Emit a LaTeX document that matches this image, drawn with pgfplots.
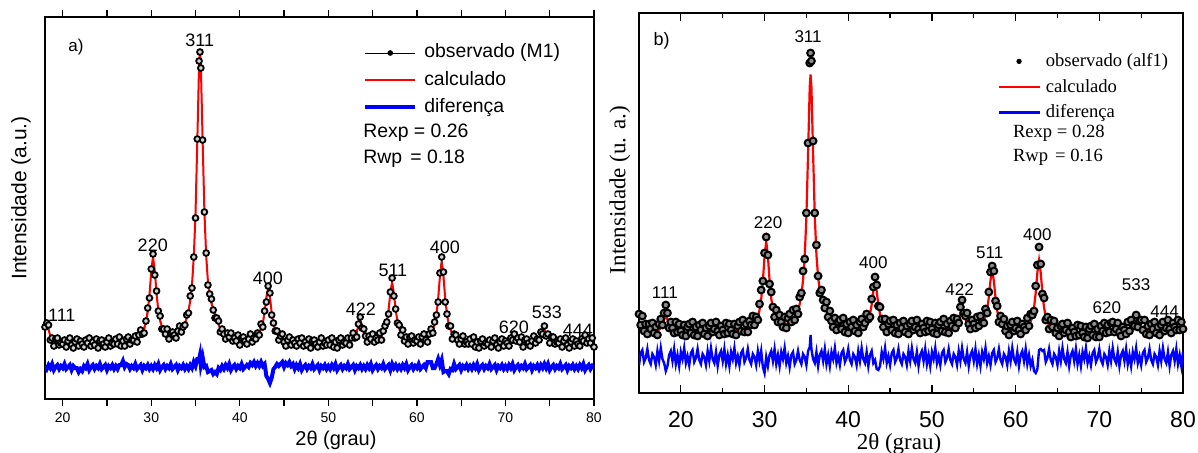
\documentclass[border=0pt]{standalone}
\usepackage{fontspec}
\setmainfont{Liberation Sans}
\newfontfamily\tnr{Liberation Serif}
\usepackage{pgfplots}
\usepackage{pgfplotstable}
\pgfplotsset{compat=1.18}

% panel a: 2theta, observed, calculated, difference
\pgfplotstableread{
x obs calc dif
18.0 72 69.1 33
18.2 76 73.5 30
18.4 74 69.1 34
18.6 59 63.3 31
18.8 61 60.1 35
19.0 53 58.4 29
19.2 60 57.5 32
19.4 61 56.9 34
19.6 54 56.6 30
19.8 56 56.3 33
20.0 55 56.2 31
20.2 59 56.0 35
20.4 52 55.9 30
20.6 58 55.8 32
20.8 61 55.8 34
21.0 54 55.7 29
21.2 51 55.7 33
21.4 57 55.7 31
21.6 60 55.7 31
21.8 53 55.7 27
22.0 58 55.7 30
22.2 55 55.8 28
22.4 52 55.8 33
22.6 59 55.8 31
22.8 56 55.8 35
23.0 61 55.8 29
23.2 53 55.9 32
23.4 57 55.9 34
23.6 54 55.9 30
23.8 60 55.9 33
24.0 51 56.0 31
24.2 58 56.0 35
24.4 59 56.0 30
24.6 55 56.1 32
24.8 52 56.1 34
25.0 57 56.2 29
25.2 61 56.2 33
25.4 53 56.3 31
25.6 56 56.4 34
25.8 55 56.5 30
26.0 60 56.6 33
26.2 55 56.7 30
26.4 62 56.9 34
26.6 53 57.0 34
26.8 58 57.2 38
27.0 53 57.5 32
27.2 60 57.7 35
27.4 62 58.0 34
27.6 55 58.4 30
27.8 59 58.9 33
28.0 59 59.5 31
28.2 63 60.2 35
28.4 57 61.2 30
28.6 64 62.4 32
28.8 69 64.2 34
29.0 65 66.9 29
29.2 66 70.8 33
29.4 78 77.0 31
29.6 91 87.2 34
29.8 101 104.2 30
30.0 130 127.8 33
30.2 145 141.9 30
30.4 124 128.3 34
30.6 108 104.9 31
30.8 88 88.2 35
31.0 83 78.3 29
31.2 70 72.5 32
31.4 70 69.0 34
31.6 65 66.8 30
31.8 70 65.5 33
32.0 60 64.7 31
32.2 66 64.4 35
32.4 67 64.4 30
32.6 64 64.7 32
32.8 61 65.3 34
33.0 68 66.5 29
33.2 73 67.8 33
33.4 67 69.6 31
33.6 72 72.2 34
33.8 74 75.6 30
34.0 84 80.5 33
34.2 86 87.5 30
34.4 103 98.0 34
34.6 111 114.5 31
34.8 142 141.3 37
35.0 181 186.4 33
35.2 260 257.8 40
35.4 338 333.7 40
35.5 347 347.5 44
35.6 331 333.8 34
35.8 259 258.5 42
36.0 187 187.6 32
36.2 146 143.3 33
36.4 114 117.7 27
36.6 105 103.0 28
36.8 100 95.3 29
37.0 89 91.1 25
37.2 81 86.2 27
37.4 81 79.9 25
37.6 78 74.4 31
37.8 67 70.4 29
38.0 70 67.6 33
38.2 65 65.6 30
38.4 60 63.9 34
38.6 66 62.7 31
38.8 62 61.8 35
39.0 66 61.1 29
39.2 58 60.6 32
39.4 61 60.1 34
39.6 58 59.8 30
39.8 64 59.5 33
40.0 54 59.3 31
40.2 61 59.2 35
40.4 62 59.1 30
40.6 58 59.1 32
40.8 55 59.2 34
41.0 60 59.4 32
41.2 65 59.7 36
41.4 57 60.1 34
41.6 61 60.8 37
41.8 60 61.8 33
42.0 66 63.3 36
42.2 64 65.7 33
42.4 75 69.6 37
42.6 72 76.1 33
42.8 88 86.9 35
43.0 97 102.0 23
43.2 113 111.0 20
43.4 106 101.9 16
43.6 84 86.6 21
43.8 76 75.7 30
44.0 68 69.1 32
44.2 68 65.1 35
44.4 59 62.6 33
44.6 63 60.9 35
44.8 65 59.7 37
45.0 57 58.9 32
45.2 53 58.3 36
45.4 59 57.8 34
45.6 62 57.5 37
45.8 54 57.2 33
46.0 59 57.0 35
46.2 56 56.8 30
46.4 53 56.6 34
46.6 60 56.5 31
46.8 56 56.3 35
47.0 61 56.2 29
47.2 53 56.1 32
47.4 57 56.1 34
47.6 54 56.0 30
47.8 60 56.0 33
48.0 51 56.0 31
48.2 58 56.0 35
48.4 59 56.0 30
48.6 55 56.0 32
48.8 52 56.0 34
49.0 57 56.0 29
49.2 61 56.0 33
49.4 53 56.0 31
49.6 56 56.0 34
49.8 54 56.1 30
50.0 59 56.1 33
50.2 54 56.1 30
50.4 61 56.2 34
50.6 52 56.2 31
50.8 57 56.3 35
51.0 51 56.4 29
51.2 59 56.5 32
51.4 61 56.6 34
51.6 54 56.7 30
51.8 57 56.9 33
52.0 56 57.2 31
52.2 61 57.6 35
52.4 54 58.2 30
52.6 61 59.1 32
52.8 66 60.5 34
53.0 61 63.0 29
53.2 62 67.3 33
53.4 75 73.9 31
53.6 82 78.4 34
53.8 71 74.1 30
54.0 70 67.7 33
54.2 63 63.6 30
54.4 57 61.4 34
54.6 63 60.3 31
54.8 60 59.7 35
55.0 65 59.6 29
55.2 57 59.7 32
55.4 61 60.1 34
55.6 59 60.8 30
55.8 66 61.8 33
56.0 59 63.5 31
56.2 68 66.1 35
56.4 73 70.4 30
56.6 77 77.5 32
56.8 85 89.4 34
57.0 107 106.0 29
57.2 121 116.0 35
57.4 103 106.0 31
57.6 90 89.5 34
57.8 76 77.6 30
58.0 74 70.5 33
58.2 64 66.2 30
58.4 69 63.6 34
58.6 58 61.9 31
58.8 62 60.8 35
59.0 55 60.0 29
59.2 62 59.5 32
59.4 63 59.2 34
59.6 56 59.0 30
59.8 59 58.9 33
60.0 58 58.9 31
60.2 62 59.0 35
60.4 55 59.2 30
60.6 62 59.6 32
60.8 65 60.1 34
61.0 59 60.8 31
61.2 57 61.9 37
61.4 65 63.5 37
61.6 70 65.8 37
61.8 66 69.4 31
62.0 77 75.0 31
62.2 84 84.6 35
62.4 97 100.5 40
62.6 126 122.5 34
62.8 142 135.7 39
63.0 127 122.4 27
63.2 97 100.3 28
63.4 85 84.4 28
63.6 73 74.8 25
63.8 73 69.0 30
64.0 60 65.4 29
64.2 65 62.9 35
64.4 64 61.2 30
64.6 59 60.0 32
64.8 55 59.2 34
65.0 60 58.5 29
65.2 63 58.0 33
65.4 55 57.6 31
65.6 57 57.3 34
65.8 55 57.0 30
66.0 60 56.8 33
66.2 55 56.6 30
66.4 62 56.5 34
66.6 52 56.4 31
66.8 57 56.3 35
67.0 51 56.2 29
67.2 58 56.1 32
67.4 60 56.0 34
67.6 53 56.0 30
67.8 56 55.9 33
68.0 55 55.9 31
68.2 59 55.9 35
68.4 52 55.9 30
68.6 58 55.9 32
68.8 61 55.9 34
69.0 54 55.9 29
69.2 51 55.9 33
69.4 57 56.0 31
69.6 60 56.0 34
69.8 53 56.1 30
70.0 58 56.3 33
70.2 56 56.5 30
70.4 53 56.9 34
70.6 61 57.6 31
70.8 59 58.6 35
71.0 65 59.9 29
71.2 58 60.6 32
71.4 61 60.0 34
71.6 57 58.8 30
71.8 62 57.9 33
72.0 52 57.3 31
72.2 59 57.0 35
72.4 60 57.0 30
72.6 56 56.9 32
72.8 53 57.1 34
73.0 58 57.3 29
73.2 63 57.8 33
73.4 56 58.5 31
73.6 60 59.6 34
73.8 59 61.4 30
74.0 67 63.9 34
74.2 65 66.9 31
74.4 73 68.4 35
74.6 63 66.9 31
74.8 65 63.9 35
75.0 56 61.3 29
75.2 62 59.5 32
75.4 62 58.4 34
75.6 55 57.6 30
75.8 57 57.1 33
76.0 56 56.7 31
76.2 60 56.5 35
76.4 52 56.3 30
76.6 58 56.2 32
76.8 61 56.1 34
77.0 54 56.0 29
77.2 51 56.0 33
77.4 57 56.0 31
77.6 60 56.0 34
77.8 53 56.0 30
78.0 58 56.1 33
78.2 55 56.3 30
78.4 53 56.6 34
78.6 60 57.1 31
78.8 58 57.9 35
79.0 64 58.9 29
79.2 56 59.4 32
79.4 60 58.9 34
79.6 56 57.9 30
79.8 61 57.1 33
80.0 52 56.6 31
}\dataA

% panel b
\pgfplotstableread{
x obs calc dif
15.0 79 71.0 28
15.2 68 69.0 40
15.4 77 67.1 43
15.6 62 65.3 31
15.8 69 63.8 35
16.0 59 62.6 44
16.2 69 61.9 33
16.4 64 61.5 29
16.6 70 61.4 39
16.8 60 61.5 36
17.0 66 61.8 28
17.2 58 62.4 42
17.4 69 63.3 32
17.6 74 64.9 45
17.8 68 68.0 34
18.0 80 73.4 30
18.2 88 77.6 22
18.4 80 73.3 27
18.6 65 67.9 38
18.8 71 64.8 42
19.0 65 63.2 32
19.2 60 62.4 44
19.4 71 61.8 29
19.6 61 61.5 38
19.8 69 61.2 27
20.0 62 61.1 41
20.2 58 60.9 34
20.4 68 60.8 45
20.6 57 60.7 30
20.8 66 60.7 37
21.0 69 60.7 28
21.2 60 60.7 40
21.4 71 60.7 43
21.6 58 60.7 31
21.8 66 60.7 35
22.0 57 60.7 44
22.2 68 60.7 33
22.4 63 60.7 29
22.6 70 60.7 39
22.8 59 60.7 36
23.0 65 60.7 28
23.2 57 60.8 42
23.4 67 60.8 32
23.6 70 60.8 45
23.8 61 60.8 34
24.0 64 60.8 30
24.2 71 60.8 41
24.4 62 60.8 27
24.6 58 60.9 38
24.8 67 60.9 42
25.0 63 61.1 32
25.2 59 61.1 44
25.4 70 61.2 29
25.6 60 61.3 38
25.8 69 61.4 27
26.0 63 61.6 41
26.2 59 61.7 34
26.4 69 61.9 45
26.6 58 62.0 30
26.8 67 62.2 37
27.0 71 62.5 28
27.2 62 62.7 40
27.4 73 63.1 43
27.6 61 63.5 31
27.8 69 63.9 35
28.0 61 64.6 44
28.2 72 65.3 33
28.4 68 66.3 29
28.6 77 67.7 39
28.8 68 69.6 36
29.0 76 72.3 28
29.2 73 76.5 42
29.4 89 83.0 32
29.6 103 93.8 42
29.8 112 111.8 26
30.0 140 136.8 20
30.2 156 151.7 36
30.4 138 137.2 27
30.6 109 112.4 38
30.8 101 94.7 42
31.0 86 84.1 32
31.2 76 78.0 44
31.4 83 74.2 29
31.6 71 71.8 38
31.8 78 70.4 27
32.0 71 69.5 41
32.2 66 69.0 34
32.4 76 68.9 45
32.6 65 69.1 30
32.8 75 69.7 37
33.0 79 70.5 26
33.2 71 71.6 38
33.4 83 73.3 41
33.6 73 75.5 29
33.8 84 78.5 33
34.0 79 82.8 42
34.2 96 88.9 33
34.4 100 98.1 29
34.6 122 112.8 39
34.8 134 136.5 36
35.0 180 176.2 28
35.2 250 239.2 42
35.4 330 306.3 46
35.5 340 318.5 58
35.6 332 306.4 44
35.8 252 239.9 34
36.0 180 177.4 30
36.2 148 138.4 41
36.4 117 115.9 27
36.6 100 103.1 38
36.8 103 96.7 42
37.0 93 91.4 32
37.2 85 87.1 44
37.4 91 81.6 29
37.6 76 76.9 38
37.8 82 73.5 27
38.0 72 71.0 41
38.2 66 69.2 34
38.4 75 67.8 45
38.6 63 66.8 30
38.8 71 66.0 37
39.0 73 65.4 28
39.2 64 64.9 40
39.4 75 64.5 43
39.6 61 64.2 31
39.8 69 64.0 35
40.0 60 63.8 44
40.2 71 63.7 33
40.4 66 63.6 29
40.6 73 63.6 39
40.8 62 63.7 36
41.0 68 63.9 28
41.2 60 64.1 42
41.4 71 64.5 32
41.6 74 65.2 45
41.8 66 66.1 34
42.0 70 67.4 30
42.2 79 69.4 41
42.4 74 72.9 27
42.6 76 78.7 38
42.8 94 88.3 42
43.0 106 101.9 30
43.2 116 109.9 33
43.4 108 101.8 24
43.6 87 88.1 23
43.8 86 78.4 27
44.0 74 72.5 41
44.2 66 68.9 34
44.4 74 66.7 45
44.6 61 65.2 30
44.8 69 64.2 37
45.0 72 64.0 28
45.2 63 63.5 40
45.4 73 63.3 43
45.6 60 63.2 31
45.8 68 63.1 35
46.0 59 63.2 44
46.2 70 63.3 33
46.4 65 63.3 29
46.6 72 63.3 39
46.8 61 63.2 36
47.0 67 63.1 28
47.2 59 63.1 42
47.4 69 63.1 32
47.6 72 63.0 45
47.8 63 63.0 34
48.0 66 63.0 30
48.2 73 63.0 41
48.4 64 63.0 27
48.6 60 63.0 38
48.8 69 63.0 42
49.0 65 62.9 32
49.2 61 62.9 44
49.4 72 62.9 29
49.6 62 62.9 38
49.8 71 63.0 27
50.0 64 63.0 41
50.2 60 63.0 34
50.4 70 63.1 45
50.6 59 63.1 30
50.8 68 63.2 37
51.0 71 63.3 28
51.2 62 63.4 40
51.4 74 63.5 43
51.6 61 63.6 31
51.8 69 63.8 35
52.0 60 64.1 44
52.2 72 64.5 33
52.4 67 65.0 29
52.6 75 65.9 39
52.8 65 67.2 36
53.0 74 69.6 28
53.2 70 73.7 42
53.4 86 80.1 32
53.6 93 84.4 45
53.8 80 80.3 34
54.0 77 74.1 30
54.2 80 70.2 41
54.4 69 68.2 27
54.6 64 67.1 38
54.8 73 66.6 42
55.0 69 66.5 32
55.2 65 66.6 44
55.4 76 67.1 29
55.6 67 67.7 38
55.8 77 68.7 27
56.0 71 70.2 41
56.2 70 72.6 34
56.4 84 76.8 45
56.6 80 84.0 30
56.8 101 95.9 37
57.0 121 112.9 28
57.2 127 123.0 40
57.4 122 112.2 43
57.6 92 94.9 31
57.8 87 82.3 35
58.0 71 74.6 44
58.2 77 70.0 33
58.4 69 67.0 29
58.6 74 65.1 39
58.8 62 63.6 36
59.0 67 63.0 28
59.2 58 62.4 42
59.4 68 62.1 32
59.6 71 61.9 45
59.8 62 61.7 34
60.0 65 61.7 30
60.2 72 61.8 41
60.4 63 62.0 27
60.6 59 62.3 38
60.8 69 62.8 42
61.0 66 63.5 32
61.2 63 64.5 44
61.4 75 65.9 29
61.6 67 68.0 38
61.8 79 71.3 27
62.0 78 76.6 33
62.2 82 85.4 22
62.4 107 100.2 20
62.6 128 120.5 24
62.8 146 132.7 43
63.0 129 120.5 44
63.2 99 100.1 42
63.4 95 85.2 43
63.6 73 76.4 31
63.8 76 71.0 35
64.0 64 67.7 44
64.2 73 65.5 33
64.4 66 63.9 29
64.6 72 62.9 39
64.8 60 62.1 36
65.0 65 61.4 28
65.2 57 61.0 42
65.4 67 60.6 32
65.6 69 60.3 45
65.8 60 60.0 34
66.0 63 59.8 30
66.2 70 59.6 41
66.4 61 59.5 27
66.6 56 59.3 38
66.8 65 59.2 42
67.0 61 59.1 32
67.2 57 59.0 44
67.4 68 59.0 29
67.6 58 58.9 38
67.8 67 58.9 27
68.0 60 58.9 41
68.2 56 58.9 34
68.4 66 58.9 45
68.6 55 58.9 30
68.8 64 58.9 37
69.0 67 58.9 28
69.2 58 58.9 40
69.4 69 59.0 43
69.6 56 59.2 31
69.8 64 59.3 35
70.0 56 59.5 44
70.2 67 59.7 33
70.4 62 60.3 29
70.6 70 61.1 39
70.8 60 62.3 36
71.0 68 63.9 28
71.2 61 64.7 42
71.4 70 63.9 32
71.6 71 62.4 45
71.8 61 61.3 34
72.0 64 60.6 30
72.2 70 60.3 41
72.4 61 60.1 27
72.6 57 60.2 38
72.8 66 60.4 42
73.0 63 60.8 32
73.2 59 61.3 44
73.4 71 62.0 29
73.6 62 63.1 38
73.8 73 64.7 27
74.0 68 67.0 41
74.2 67 69.8 34
74.4 78 71.2 45
74.6 66 70.0 30
74.8 72 67.4 37
75.0 73 65.3 28
75.2 63 63.9 40
75.4 73 62.9 43
75.6 59 62.4 31
75.8 67 62.1 35
76.0 58 61.9 44
76.2 69 61.8 33
76.4 64 61.7 29
76.6 71 61.7 39
76.8 60 61.8 36
77.0 66 61.8 28
77.2 58 61.9 42
77.4 68 62.0 32
77.6 71 62.1 45
77.8 62 62.3 34
78.0 65 62.4 30
78.2 73 62.5 41
78.4 64 62.7 27
78.6 60 63.1 38
78.8 70 63.7 42
79.0 66 64.4 32
79.2 63 64.8 44
79.4 73 64.4 29
79.6 63 63.7 38
79.8 71 63.1 27
80.0 64 62.7 41
}\dataB

\begin{document}
\begin{tikzpicture}
\path[use as bounding box] (0,0) rectangle (599pt,226pt);

% ---------- panel a ----------
\begin{axis}[
    at={(22.5pt,26.5pt)}, anchor=south west,
    scale only axis, width=274.5pt, height=191pt,
    xmin=18, xmax=80, ymin=0, ymax=382,
    xtick={20,25,...,80},
    xticklabels={20,,30,,40,,50,,60,,70,,80},
    ytick=\empty, minor ytick={0,20,...,380},
    tick align=outside,
    major tick length=3.5pt, minor tick length=2pt,
    axis line style={line width=0.8pt},
    every tick/.style={black, line width=0.6pt},
    /pgf/number format/assume math mode=true,
    ticklabel style={font=\fontsize{7}{8}\selectfont},
    xlabel={2θ (grau)},
    xlabel style={at={(axis description cs:0.53,0)}, anchor=center, yshift=-20.5pt, font=\fontsize{10}{12}\selectfont},
    ylabel={Intensidade (a.u.)},
    ylabel style={at={(axis description cs:-0.0437,0.526)}, anchor=center, font=\fontsize{10.5}{12}\selectfont},
    legend cell align=left,
    legend style={at={(axis description cs:0.579,0.933)}, anchor=north west,
        draw=none, fill=none, inner sep=0pt, row sep=3.55pt, column sep=3.5pt,
        font=\fontsize{9.7}{11}\selectfont,
        nodes={inner sep=0pt, text height=0.75em, text depth=0.25em}},
    legend image code/.code={\draw[#1] (0pt,0pt) -- (25pt,0pt);},
]
\addplot[black, line width=0.4pt, mark=*, mark size=1.45pt, mark options={solid, draw=black, fill=gray!35, line width=0.9pt},
    legend image code/.code={\draw[black, line width=0.4pt] (0pt,0pt) -- (25pt,0pt); \fill[black] (12.5pt,0pt) circle[radius=1.2pt];}]
    table[x=x, y=obs] {\dataA};
\addlegendentry{observado (M1)}
\addplot[red, line width=1pt] table[x=x, y=calc] {\dataA};
\addlegendentry{calculado}
\addplot[blue, line width=2pt] table[x=x, y=dif] {\dataA};
\addlegendentry{diferença}

\node[anchor=base west, inner sep=0pt, font=\fontsize{9.7}{11}\selectfont] at (axis cs:53.9,262) {Rexp = 0.26};
\node[anchor=base west, inner sep=0pt, font=\fontsize{9.7}{11}\selectfont] at (axis cs:53.9,236) {Rwp\hspace{4.2pt}= 0.18};
\node[font=\fontsize{8.5}{10}\selectfont] at (axis cs:21.5,352) {a)};
\begin{scope}[every node/.style={font=\fontsize{9}{10}\selectfont, inner sep=0pt}]
\node at (axis cs:19.9,84) {111};
\node at (axis cs:30.17,154) {220};
\node at (axis cs:35.48,359) {311};
\node at (axis cs:43.16,121) {400};
\node at (axis cs:53.67,90) {422};
\node at (axis cs:57.29,129) {511};
\node at (axis cs:63.16,152) {400};
\node at (axis cs:70.96,72) {620};
\node at (axis cs:74.69,87) {533};
\node at (axis cs:78.19,69) {444};
\end{scope}
\end{axis}

% ---------- panel b ----------
\begin{axis}[
    at={(319.5pt,29.5pt)}, anchor=south west,
    scale only axis, width=272pt, height=190pt,
    xmin=15, xmax=80, ymin=0, ymax=380,
    xtick={20,30,...,80}, minor xtick={25,35,...,75},
    ytick=\empty, minor ytick={53,108,163,218,272,327},
    tick align=inside,
    major tick length=4pt, minor tick length=2.5pt,
    axis line style={line width=0.7pt},
    every tick/.style={black, line width=0.6pt},
    /pgf/number format/assume math mode=true,
    ticklabel style={font=\fontsize{11.5}{13}\selectfont},
    xticklabel style={yshift=-5.5pt},
    xlabel={2θ (grau)},
    xlabel style={at={(axis description cs:0.478,0)}, anchor=center, yshift=-25.5pt, font=\tnr\fontsize{11.5}{13}\selectfont},
    ylabel={Intensidade (u. a.)},
    ylabel style={at={(axis description cs:-0.035,0.534)}, anchor=center, font=\tnr\fontsize{11.5}{13}\selectfont},
    legend cell align=left,
    legend style={at={(axis description cs:0.658,0.90)}, anchor=north west,
        draw=none, fill=none, inner sep=0pt, row sep=2.8pt, column sep=2.5pt,
        font=\tnr\fontsize{9.3}{11}\selectfont,
        nodes={inner sep=0pt, text height=0.75em, text depth=0.25em}},
    legend image code/.code={\draw[#1] (0pt,0pt) -- (20.5pt,0pt);},
]
\addplot[only marks, black, mark=*, mark size=1.7pt, mark options={draw=black, fill=black!45, line width=1pt},
    legend image code/.code={\fill[black] (10.25pt,0pt) circle[radius=1.1pt];}]
    table[x=x, y=obs] {\dataB};
\addlegendentry{observado (alf1)}
\addplot[red, line width=1.1pt] table[x=x, y=calc] {\dataB};
\addlegendentry{calculado}
\addplot[blue, line width=1.2pt] table[x=x, y=dif] {\dataB};
\addlegendentry{diferença}

\node[anchor=base west, inner sep=0pt, font=\tnr\fontsize{9.3}{11}\selectfont] at (axis cs:59.64,256) {Rexp = 0.28};
\node[anchor=base west, inner sep=0pt, font=\tnr\fontsize{9.3}{11}\selectfont] at (axis cs:59.64,232) {Rwp\hspace{3.5pt}= 0.16};
\node[font=\fontsize{9}{10}\selectfont] at (axis cs:17.7,352) {b)};
\begin{scope}[every node/.style={font=\fontsize{8.5}{10}\selectfont, inner sep=0pt}]
\node at (axis cs:18.08,100) {111};
\node at (axis cs:30.42,170) {220};
\node at (axis cs:35.2,356) {311};
\node at (axis cs:43.0,130) {400};
\node at (axis cs:53.3,103) {422};
\node at (axis cs:56.9,140) {511};
\node at (axis cs:62.6,158) {400};
\node at (axis cs:70.9,85) {620};
\node at (axis cs:74.4,108) {533};
\node at (axis cs:77.8,81) {444};
\end{scope}
\end{axis}
\end{tikzpicture}
\end{document}
